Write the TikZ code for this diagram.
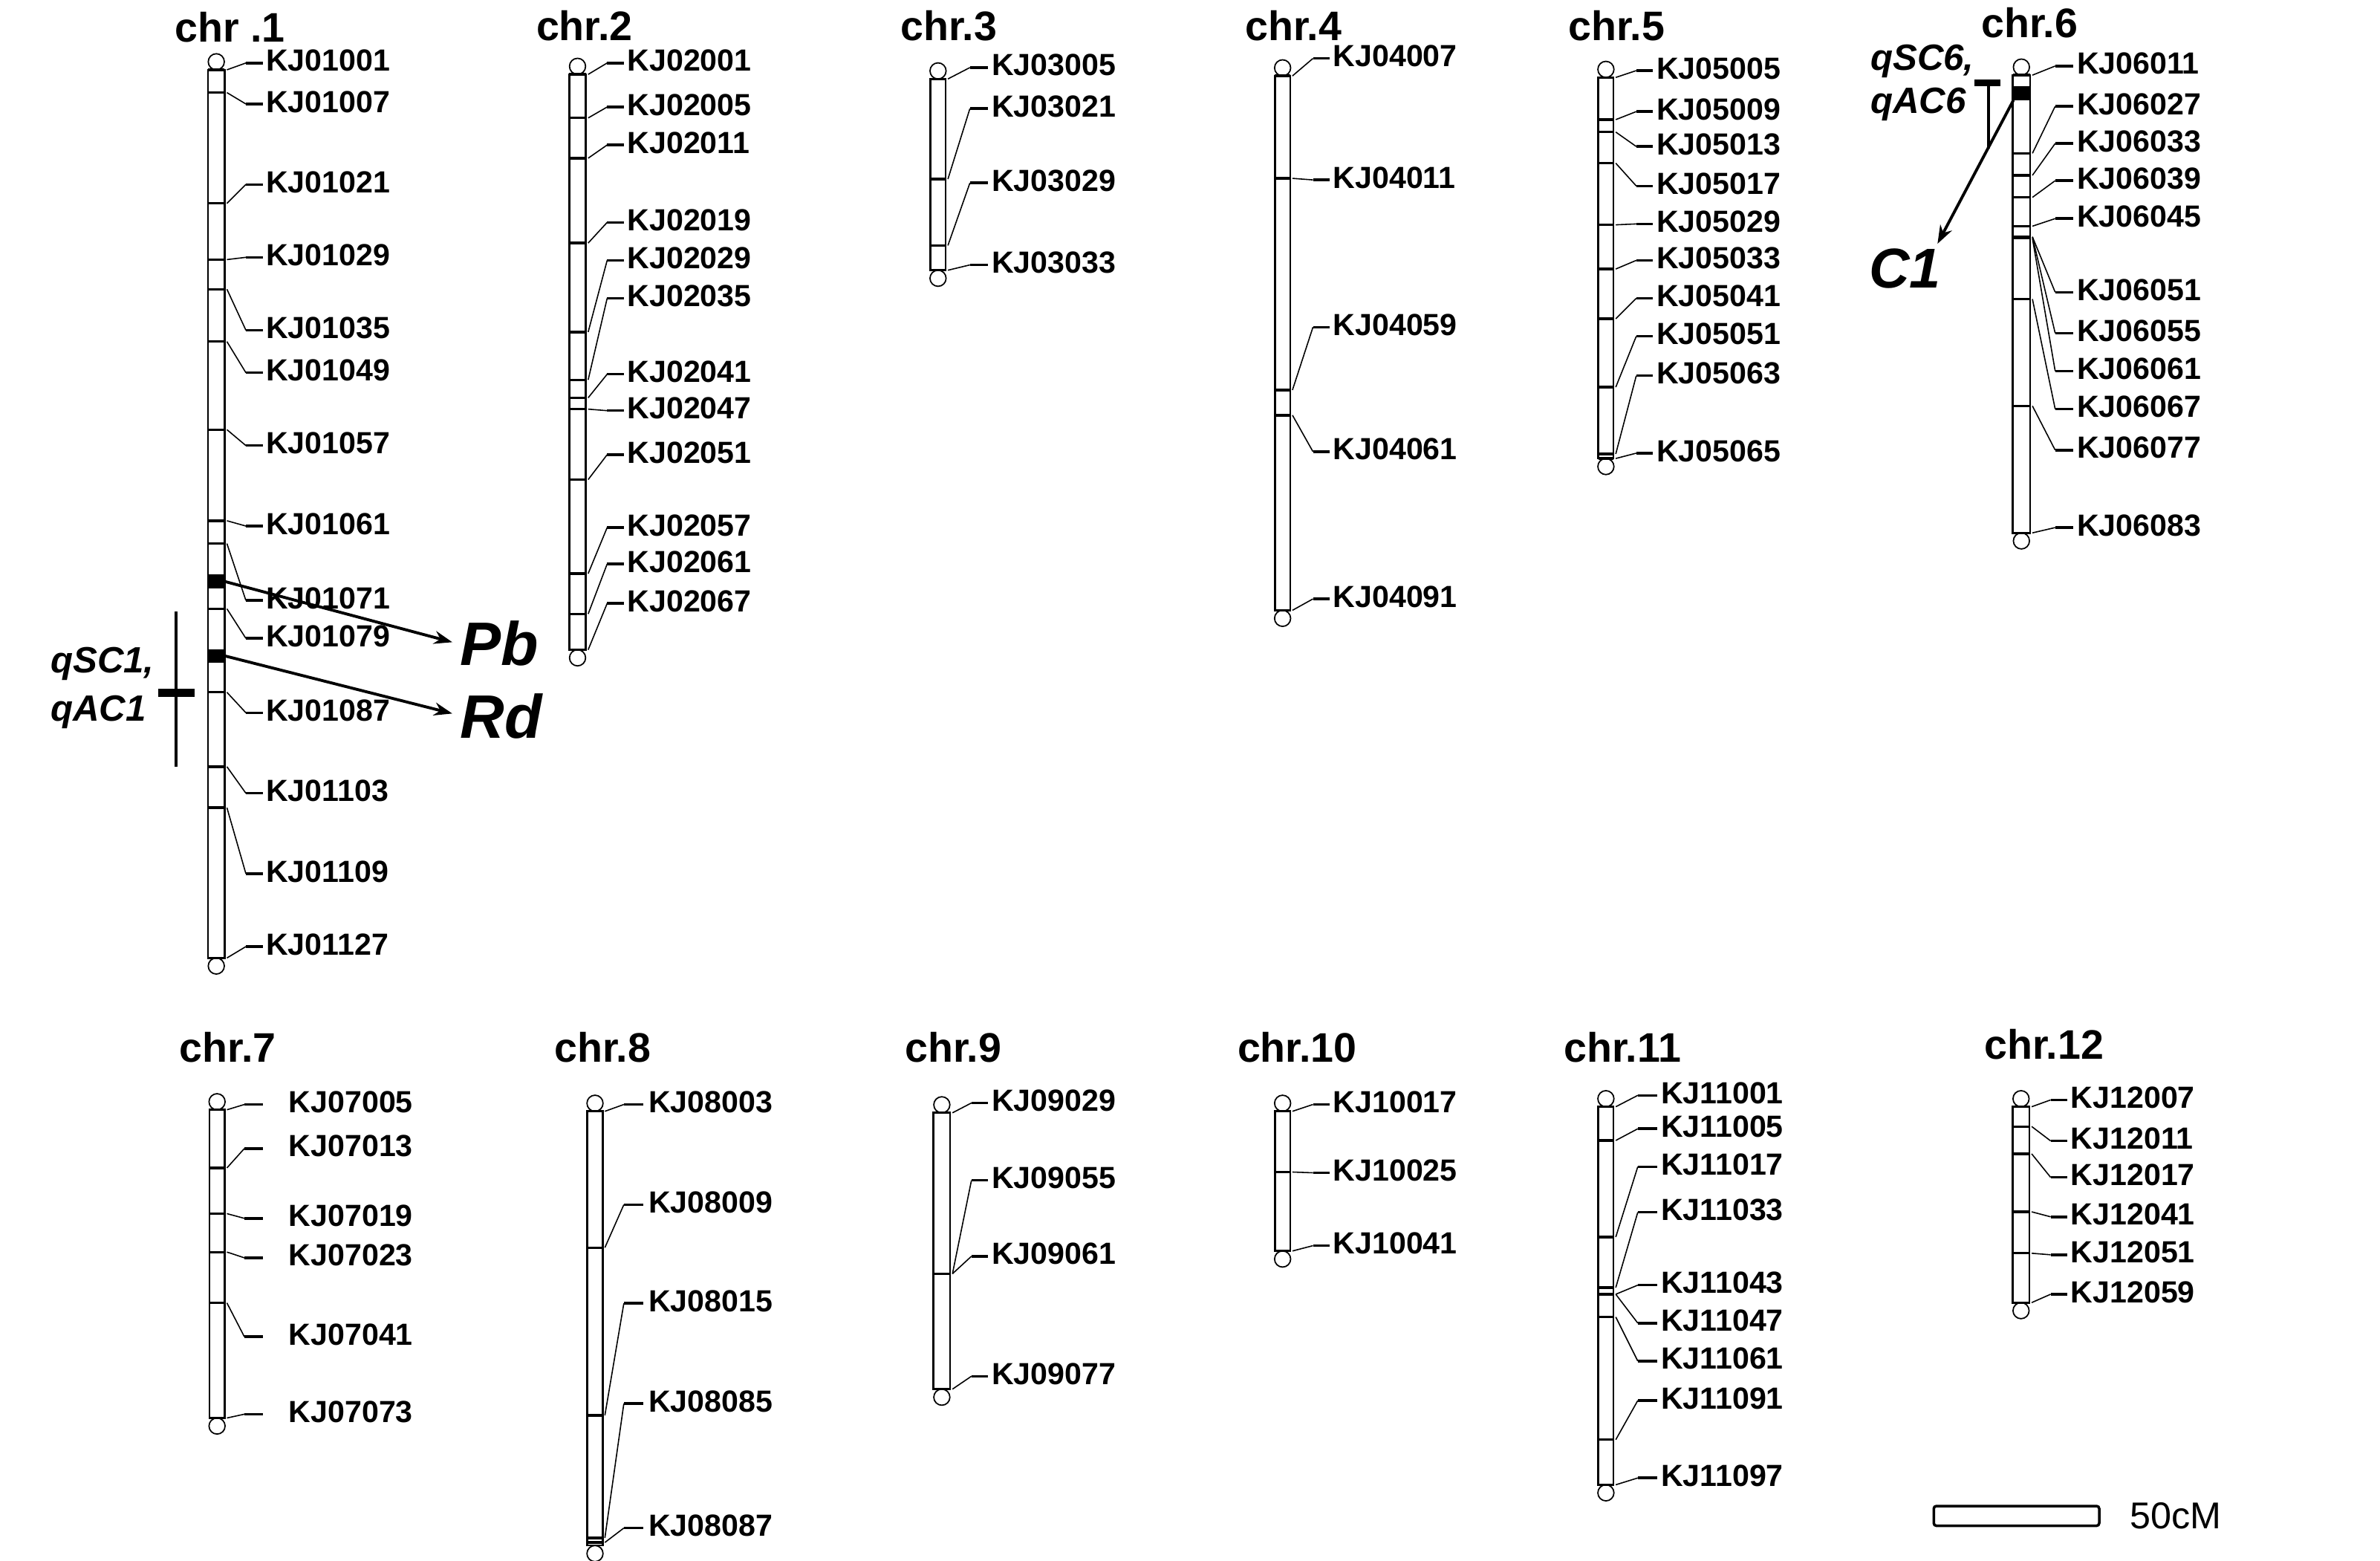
\documentclass[tikz,border=0pt]{standalone}
\usepackage{fontspec}
\setmainfont{Liberation Sans}
\usetikzlibrary{arrows.meta, calc}

% one linkage group: caps and outline (left, right, top, bottom)
\newcommand{\chrbar}[4]{%
  \draw[capline] ({(#1+#2)/2},{#3-5.3}) circle[radius=5.3];
  \draw[capline] ({(#1+#2)/2},{#4+5.3}) circle[radius=5.3];
  \draw[barline] (#1,#3) rectangle (#2,#4);
}
% markers: left, right, text x, stub start, stub end, band/label/name
\newcommand{\chrmarks}[6]{%
  \foreach \b/\l/\m in {#6}{
    \draw[band] (#1,\b) -- (#2,\b);
    \node[mk] (\m) at (#3,\l) {\m};
    \draw[lead] ({#2+1.5},\b) -- ($(\m.west)+(#4,1.5)$);
    \draw[stub] ($(\m.west)+(#4,1.5)$) -- ($(\m.west)+(#5,1.5)$);
  }
}

\begin{document}
\begin{tikzpicture}[
    x=0.02043cm, y=-0.02043cm,
    capline/.style={line width=0.5pt},
    barline/.style={line width=0.75pt, fill=white},
    band/.style={line width=0.95pt},
    lead/.style={line width=0.45pt},
    stub/.style={line width=1pt},
    mk/.style={anchor=west, inner sep=0pt, font=\fontsize{11.7}{12}\selectfont\bfseries},
    chrtitle/.style={anchor=west, inner sep=0pt, font=\fontsize{15.8}{16}\selectfont\bfseries},
    locus/.style={anchor=west, inner sep=0pt, font=\fontsize{23.5}{25}\selectfont\bfseries\itshape},
    qtllab/.style={anchor=west, inner sep=0pt, font=\fontsize{14}{15}\selectfont\bfseries\itshape},
    qtlline/.style={line width=1.2pt},
    pointer/.style={line width=1.1pt, -{Stealth[length=7pt, width=5pt]}},
]
\useasboundingbox (0,0) rectangle (1568,1028);

% titles
\node[chrtitle] (chr1) at (115,18) {chr .1};
\node[chrtitle] (chr2) at (353,17) {chr.2};
\node[chrtitle] (chr3) at (593,17) {chr.3};
\node[chrtitle] (chr4) at (820,17) {chr.4};
\node[chrtitle] (chr5) at (1033,17) {chr.5};
\node[chrtitle] (chr6) at (1305,15) {chr.6};
\node[chrtitle] (chr7) at (118,690) {chr.7};
\node[chrtitle] (chr8) at (365,690) {chr.8};
\node[chrtitle] (chr9) at (596,690) {chr.9};
\node[chrtitle] (chr10) at (815,690) {chr.10};
\node[chrtitle] (chr11) at (1030,690) {chr.11};
\node[chrtitle] (chr12) at (1307,688) {chr.12};

% chr.1
\chrbar{137}{148}{46}{631}
\chrmarks{137}{148}{175}{-13}{-2}{46/40/KJ01001, 61/67/KJ01007, 134/120/KJ01021,
  171/168/KJ01029, 190.5/216/KJ01035, 225/244/KJ01049, 283/292/KJ01057,
  343/345/KJ01061, 358/394/KJ01071, 401/419/KJ01079, 456/468/KJ01087,
  505/521/KJ01103, 532/574/KJ01109, 631/622/KJ01127}
\fill (136.6,378.5) rectangle (148.4,387.5);
\fill (136.6,427.5) rectangle (148.4,436.5);
\coordinate (pbbox) at (148,383);
\coordinate (rdbox) at (148,432);
\node[locus] (Pb) at (303,424) {Pb};
\node[locus] (Rd) at (303,472) {Rd};
\draw[pointer] (pbbox) -- ($(Pb.west)+(-5,-1)$);
\draw[pointer] (rdbox) -- ($(Rd.west)+(-5,-2)$);
\draw[qtlline] (116,403) -- (116,505);
\fill (104.3,453.5) rectangle (128.4,459.2);
\node[qtllab] (qSC1) at (33,437) {qSC1,};
\node[qtllab] (qAC1) at (33,469) {qAC1};

% chr.2
\chrbar{375}{386}{49}{428}
\chrmarks{375}{386}{413}{-13}{-2}{49/40/KJ02001, 77.7/69/KJ02005, 104.2/94/KJ02011,
  160.1/145/KJ02019, 218.7/170/KJ02029, 250.2/195/KJ02035, 262/245/KJ02041,
  269.5/269/KJ02047, 315.9/298/KJ02051, 377.8/346/KJ02057, 404.4/370/KJ02061,
  428/396/KJ02067}

% chr.3
\chrbar{613}{623}{52}{178}
\chrmarks{613}{623}{653}{-14}{-2}{52/43/KJ03005, 118/70/KJ03021, 161.7/119/KJ03029,
  178/173/KJ03033}

% chr.4
\chrbar{840}{850}{50}{402}
\chrmarks{840}{850}{878}{-13}{-2}{50/37/KJ04007, 117.5/117/KJ04011, 256.9/214/KJ04059,
  273.5/296/KJ04061, 402/393/KJ04091}

% chr.5
\chrbar{1053}{1063}{51}{302}
\chrmarks{1053}{1063}{1091}{-13}{-2}{51/45/KJ05005, 78.8/72/KJ05009, 87/95/KJ05013,
  107.5/121/KJ05017, 148.1/146/KJ05029, 177.2/170/KJ05033, 210/195/KJ05041,
  255/220/KJ05051, 299/246/KJ05063, 302/297/KJ05065}

% chr.6
\chrbar{1326}{1337.5}{49.5}{351}
\chrmarks{1326}{1337.5}{1368}{-14}{-2}{49.5/42/KJ06011, 101/68.5/KJ06027, 115.5/93/KJ06033,
  130/117.5/KJ06039, 149/142.5/KJ06045, 156/191/KJ06051, 156/218/KJ06055,
  157/243/KJ06061, 197/268/KJ06067, 267.4/295/KJ06077, 351/346/KJ06083}
\fill (1325.8,57) rectangle (1337.7,66);
\draw[qtlline] (1310,53) -- (1310,98);
\fill (1300.8,52.2) rectangle (1318,57);
\node[qtllab] (qSC6) at (1232,40.5) {qSC6,};
\node[qtllab] (qAC6) at (1232,68.5) {qAC6};
\coordinate (c1box) at (1326.5,66);
\node[locus, font=\fontsize{21.5}{23}\selectfont\bfseries\itshape] (C1) at (1231,177) {C1};
\draw[pointer] (c1box) -- ($(C1.north east)+(-2.5,-3)$);

% chr.7
\chrbar{138}{148}{731}{934}
\chrmarks{138}{148}{190}{-29}{-17}{731/726/KJ07005, 769.3/755/KJ07013, 799.4/801/KJ07019,
  824.7/827/KJ07023, 858.2/879/KJ07041, 934/930/KJ07073}

% chr.8
\chrbar{387}{397}{732}{1018}
\chrmarks{387}{397}{427}{-16}{-3}{732/726/KJ08003, 821.8/792/KJ08009, 932.3/857/KJ08015,
  1013/923/KJ08085, 1016/1005/KJ08087}

% chr.9
\chrbar{615}{626}{733}{915}
\chrmarks{615}{626}{653}{-13}{-2}{733/725/KJ09029, 839/776/KJ09055, 839/826/KJ09061,
  915/905/KJ09077}

% chr.10
\chrbar{840}{850}{732}{824}
\chrmarks{840}{850}{878}{-13}{-2}{732/726/KJ10017, 772/771/KJ10025, 824/819/KJ10041}

% chr.11
\chrbar{1053}{1063}{729}{978}
\chrmarks{1053}{1063}{1094}{-15}{-2}{729/720/KJ11001, 751.2/742/KJ11005, 814.8/767/KJ11017,
  848.1/797/KJ11033, 852.5/845/KJ11043, 852.5/870/KJ11047, 867.5/895/KJ11061,
  948.3/921/KJ11091, 978/972/KJ11097}

% chr.12
\chrbar{1326}{1337}{729}{858}
\chrmarks{1326}{1337}{1364}{-13}{-2}{729/723/KJ12007, 742/750/KJ12011, 760/774/KJ12017,
  798.2/800/KJ12041, 825.5/825/KJ12051, 858/851/KJ12059}

% scale
\draw[line width=1pt, rounded corners=1pt] (1274,992) rectangle (1383,1005);
\node[anchor=west, inner sep=0pt, font=\fontsize{14.3}{15}\selectfont] (scale) at (1403,998.5) {50cM};

\end{tikzpicture}
\end{document}
